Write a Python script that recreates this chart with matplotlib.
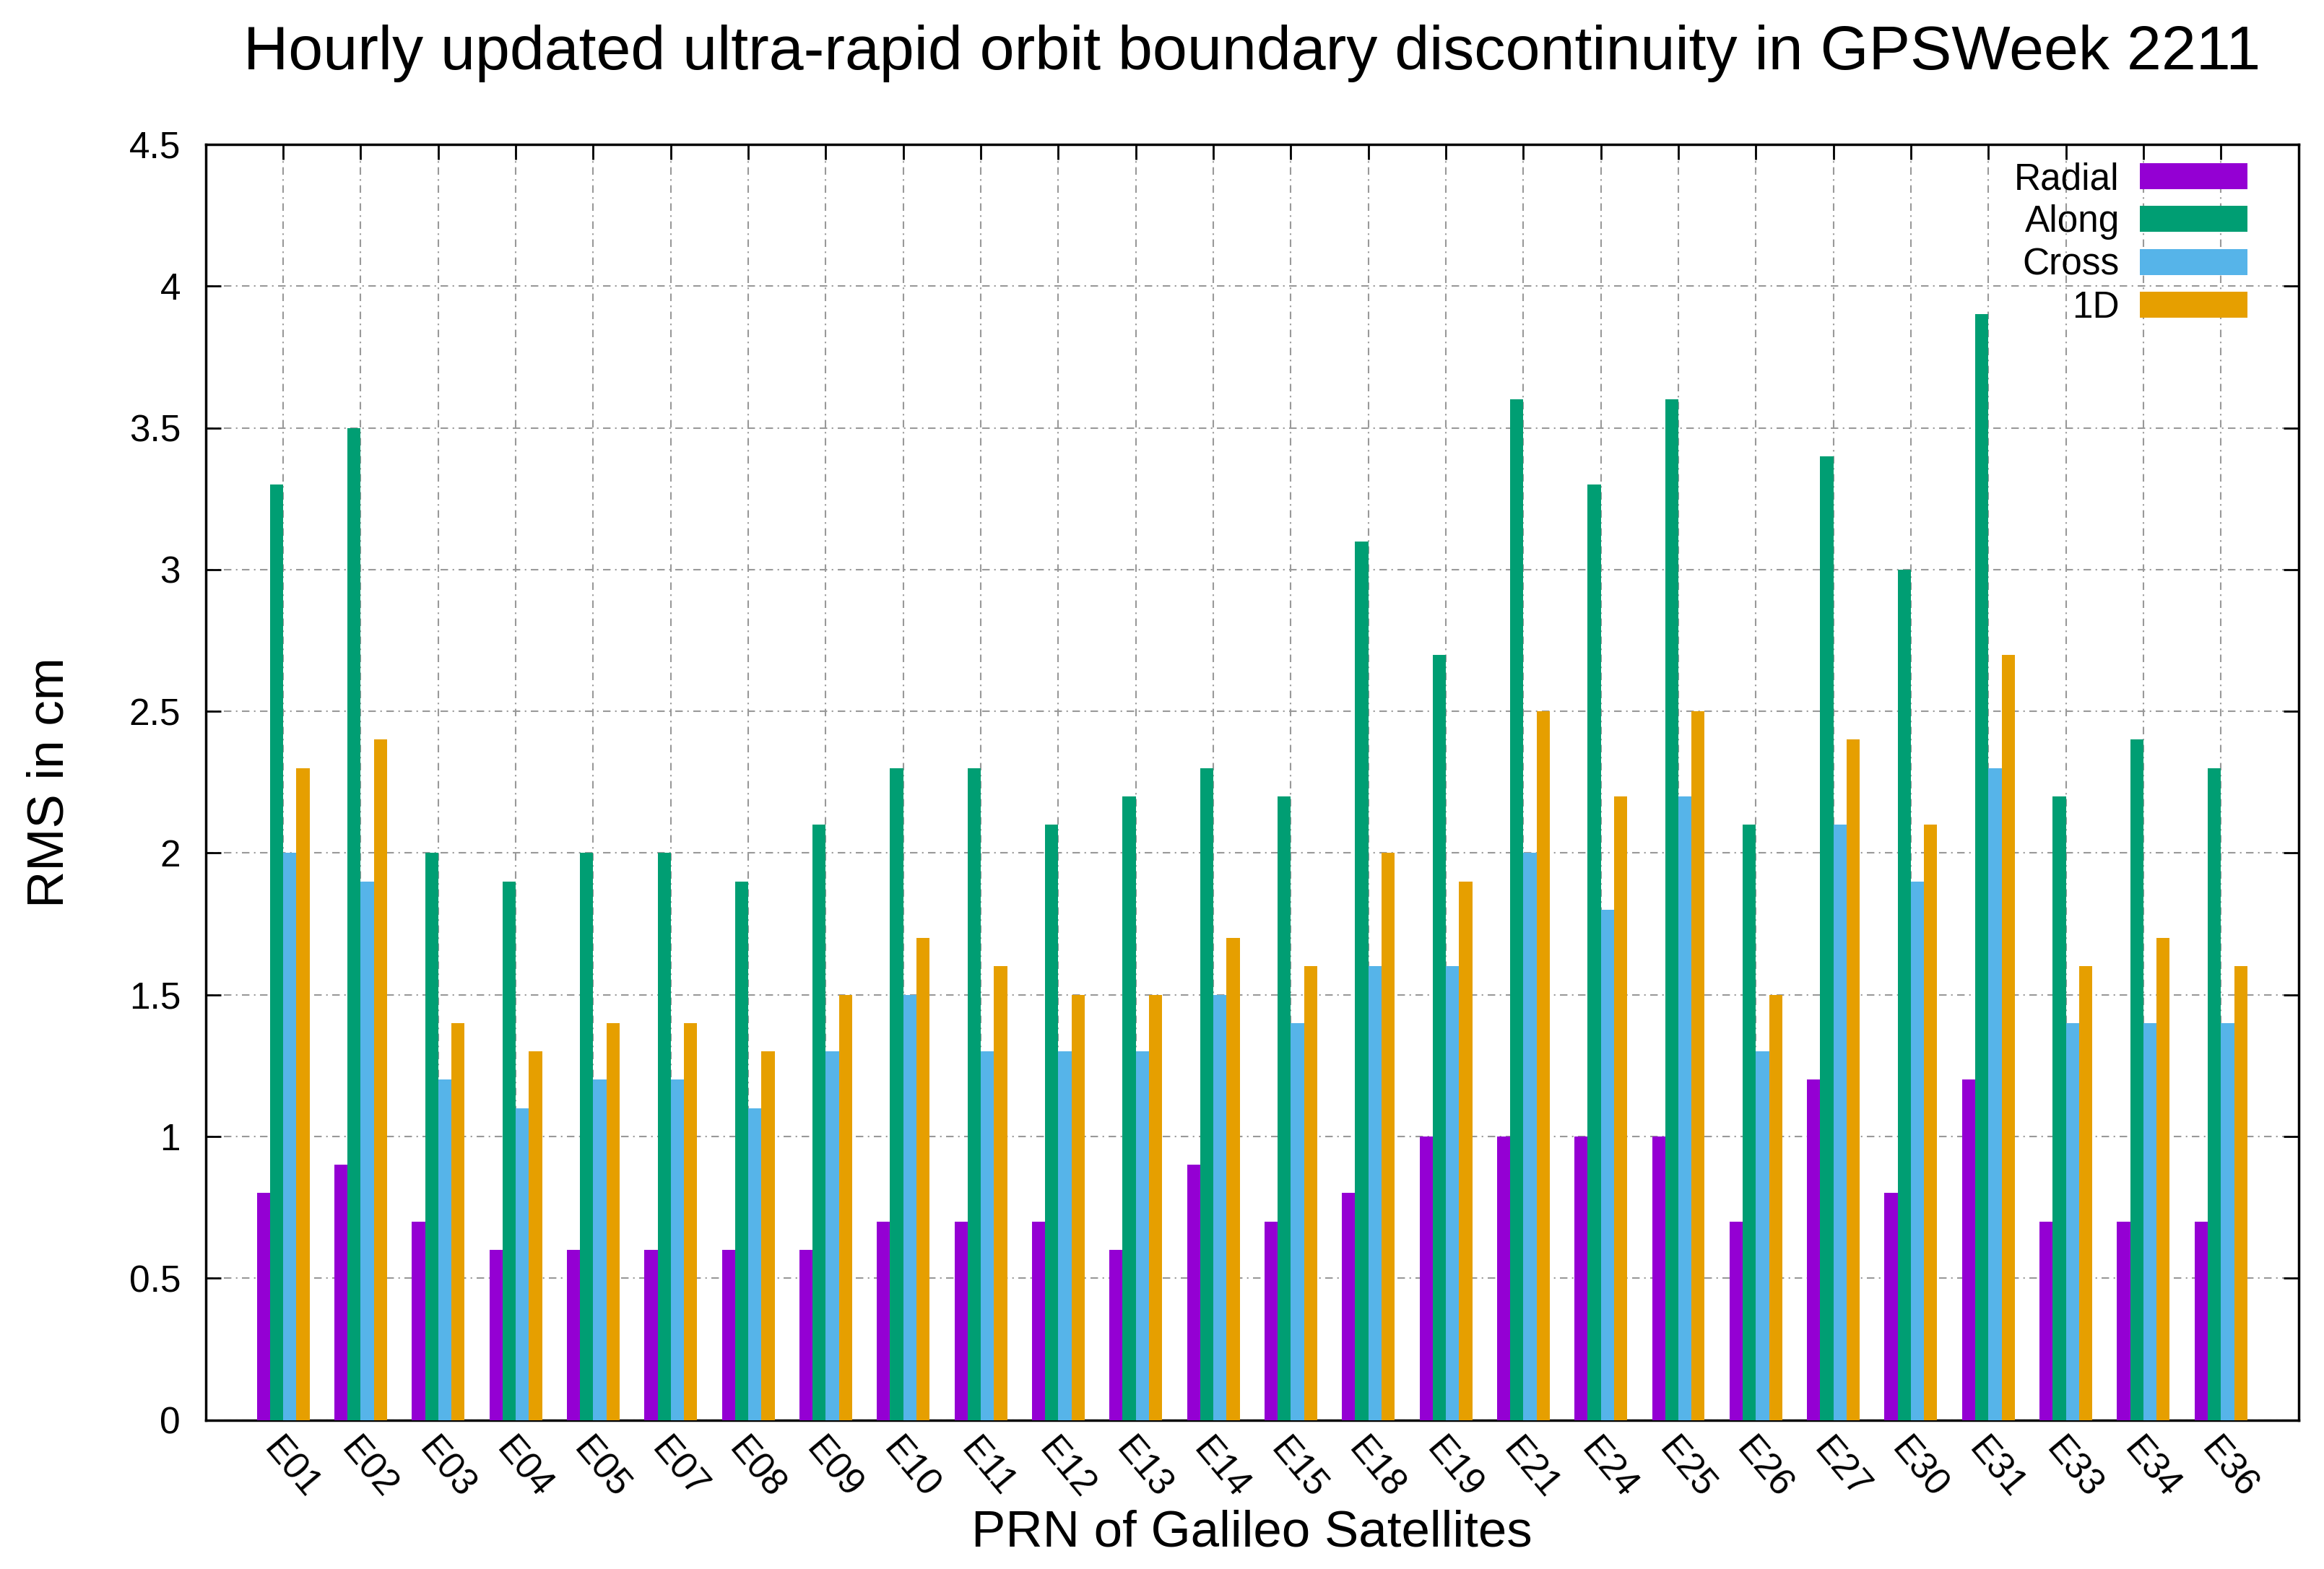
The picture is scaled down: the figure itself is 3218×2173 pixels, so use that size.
import numpy as np
import matplotlib
matplotlib.use('Agg')
import matplotlib.pyplot as plt

plt.rcParams['font.family'] = ['Liberation Sans', 'DejaVu Sans']

prns = ['E01', 'E02', 'E03', 'E04', 'E05', 'E07', 'E08', 'E09', 'E10', 'E11',
        'E12', 'E13', 'E14', 'E15', 'E18', 'E19', 'E21', 'E24', 'E25', 'E26',
        'E27', 'E30', 'E31', 'E33', 'E34', 'E36']
radial = [0.8, 0.9, 0.7, 0.6, 0.6, 0.6, 0.6, 0.6, 0.7, 0.7,
          0.7, 0.6, 0.9, 0.7, 0.8, 1.0, 1.0, 1.0, 1.0, 0.7,
          1.2, 0.8, 1.2, 0.7, 0.7, 0.7]
along = [3.3, 3.5, 2.0, 1.9, 2.0, 2.0, 1.9, 2.1, 2.3, 2.3,
         2.1, 2.2, 2.3, 2.2, 3.1, 2.7, 3.6, 3.3, 3.6, 2.1,
         3.4, 3.0, 3.9, 2.2, 2.4, 2.3]
cross = [2.0, 1.9, 1.2, 1.1, 1.2, 1.2, 1.1, 1.3, 1.5, 1.3,
         1.3, 1.3, 1.5, 1.4, 1.6, 1.6, 2.0, 1.8, 2.2, 1.3,
         2.1, 1.9, 2.3, 1.4, 1.4, 1.4]
one_d = [2.3, 2.4, 1.4, 1.3, 1.4, 1.4, 1.3, 1.5, 1.7, 1.6,
         1.5, 1.5, 1.7, 1.6, 2.0, 1.9, 2.5, 2.2, 2.5, 1.5,
         2.4, 2.1, 2.7, 1.6, 1.7, 1.6]

series = [('Radial', radial, '#9400D3'),
          ('Along', along, '#009E73'),
          ('Cross', cross, '#56B4E9'),
          ('1D', one_d, '#E69F00')]

fig = plt.figure(figsize=(32.18, 21.73), dpi=100)
ax = fig.add_axes([0.0885, 0.095, 0.9005, 0.813])

x = np.arange(1, len(prns) + 1)
w = 0.17
for i, (name, vals, col) in enumerate(series):
    ax.bar(x + (i - 1.5) * w, vals, width=w, color=col, label=name, zorder=3)

ax.set_xlim(0, len(prns) + 1)
ax.set_ylim(0, 4.5)
ax.set_yticks(np.arange(0, 4.51, 0.5))
ax.set_yticklabels(['%g' % v for v in np.arange(0, 4.51, 0.5)])
ax.set_xticks(x)
ax.set_xticklabels(prns, rotation=-50, ha='left', va='top', rotation_mode='anchor')

ax.tick_params(axis='both', direction='in', length=15, width=2,
               top=True, right=True, labelsize=37)
ax.tick_params(axis='y', pad=25)
ax.tick_params(axis='x', pad=12)

ax.grid(True, color='#999999', linestyle=(0, (5, 3, 1, 3)), linewidth=1.5)
ax.set_axisbelow(True)
for s in ax.spines.values():
    s.set_linewidth(2.5)

ax.set_title('Hourly updated ultra-rapid orbit boundary discontinuity in GPSWeek 2211',
             fontsize=62, pad=75)
ax.set_xlabel('PRN of Galileo Satellites', fontsize=51, labelpad=4)
ax.set_ylabel('RMS in cm', fontsize=51, labelpad=55)

leg = ax.legend(loc='upper right', bbox_to_anchor=(0.981, 0.995), frameon=False,
                markerfirst=False, fontsize=37, handlelength=2.9,
                handleheight=0.7, labelspacing=0.2, handletextpad=0.55,
                borderaxespad=0, borderpad=0.3)

fig.savefig('out.png', dpi=100)
